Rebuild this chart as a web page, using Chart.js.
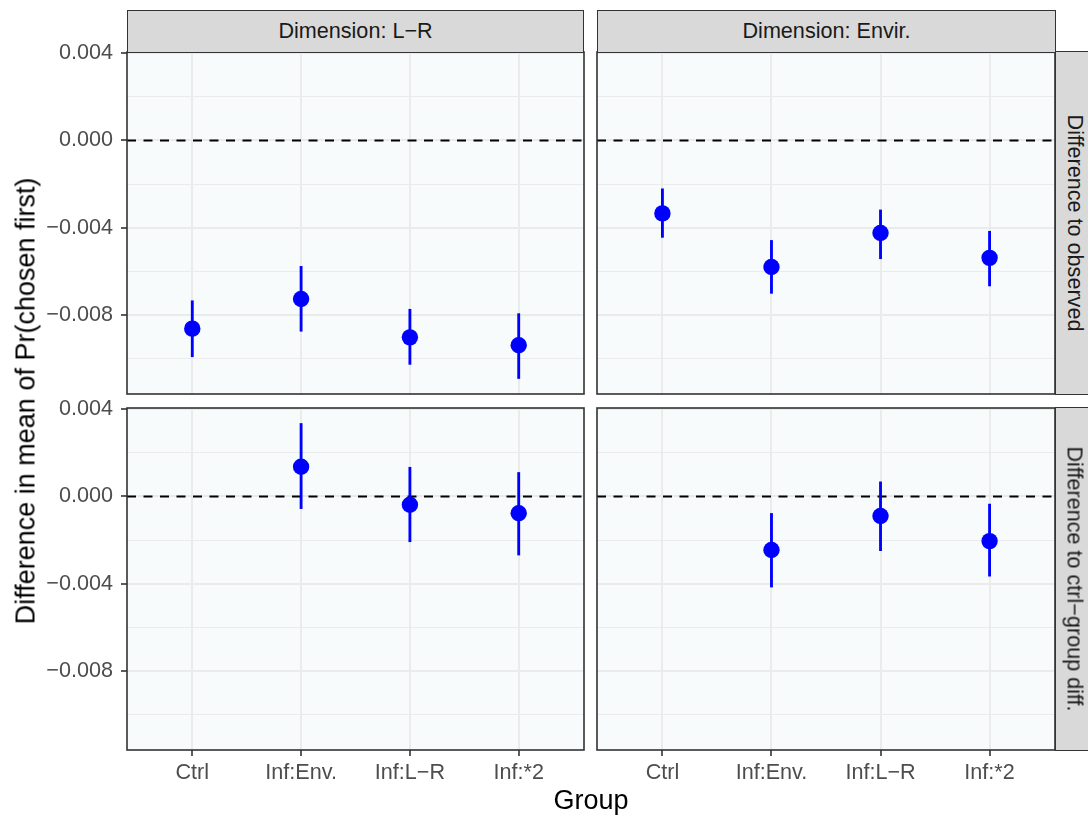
<!DOCTYPE html>
<html>
<head>
<meta charset="utf-8">
<script src="https://cdn.jsdelivr.net/npm/chart.js@4.4.1/dist/chart.umd.min.js"></script>
<style>
  html, body { margin: 0; padding: 0; background: #ffffff; }
  body { width: 1088px; height: 816px; position: relative; overflow: hidden; font-family: "Liberation Sans", Arial, sans-serif; }
  canvas { position: absolute; }
  .strip { position: absolute; background: #D9D9D9; border: 1.5px solid #333333; box-sizing: border-box; color: #1A1A1A; font-size: 21.6px; display: flex; align-items: center; justify-content: center; z-index: 2; }
  .vtext { transform: rotate(90deg); white-space: nowrap; }
  .title { position: absolute; color: #000; font-size: 27px; white-space: nowrap; }
</style>
</head>
<body>
<canvas id="cTL" width="590" height="360" style="left:0px;top:40px"></canvas>
<canvas id="cTR" width="470" height="360" style="left:591px;top:40px"></canvas>
<canvas id="cBL" width="590" height="420" style="left:0px;top:396px"></canvas>
<canvas id="cBR" width="470" height="420" style="left:591px;top:396px"></canvas>

<div class="strip" style="left:127px;top:9.5px;width:457px;height:43px">Dimension: L−R</div>
<div class="strip" style="left:597px;top:9.5px;width:459px;height:43px">Dimension: Envir.</div>
<div class="strip" style="left:1055px;top:51px;width:40px;height:344px"><div class="vtext">Difference to observed</div></div>
<div class="strip" style="left:1055px;top:407px;width:40px;height:344px"><div class="vtext">Difference to ctrl−group diff.</div></div>

<div class="title" style="left:26px;top:401px;transform:translate(-50%,-50%) rotate(-90deg)">Difference in mean of Pr(chosen first)</div>
<div class="title" style="left:591px;top:800px;transform:translate(-50%,-50%)">Group</div>

<script>
// ---- data ----
const categories = ['Ctrl', 'Inf:Env.', 'Inf:L−R', 'Inf:*2'];
const yTickValues = [0.004, 0.002, 0, -0.002, -0.004, -0.006, -0.008, -0.010];
const yMajorLabels = { '0.004': '0.004', '0': '0.000', '-0.004': '−0.004', '-0.008': '−0.008' };
const yRange = [-0.01164, 0.00406];

// Dimension L-R, difference to observed
const lrObsMean = [-0.00864, -0.00728, -0.00904, -0.00940];
const lrObsLo   = [-0.00993, -0.00876, -0.01028, -0.01093];
const lrObsHi   = [-0.00736, -0.00578, -0.00775, -0.00795];
// Dimension Envir., difference to observed
const envObsMean = [-0.00335, -0.00581, -0.00425, -0.00539];
const envObsLo   = [-0.00445, -0.00702, -0.00543, -0.00668];
const envObsHi   = [-0.00222, -0.00459, -0.00319, -0.00417];
// Dimension L-R, difference to ctrl-group diff.
const lrCtrlMean = [null, 0.00136, -0.00038, -0.00077];
const lrCtrlLo   = [null, -0.00056, -0.00208, -0.00269];
const lrCtrlHi   = [null, 0.00335, 0.00134, 0.00110];
// Dimension Envir., difference to ctrl-group diff.
const envCtrlMean = [null, -0.00246, -0.00090, -0.00205];
const envCtrlLo   = [null, -0.00416, -0.00249, -0.00366];
const envCtrlHi   = [null, -0.00078, 0.00067, -0.00035];

// ---- helpers ----
const FONT = 'Liberation Sans, Arial, sans-serif';
const TICK_SIZE = 21.6;
const isMajor = v => Math.abs(Math.round(v / 0.002)) % 2 === 0;

const panelPlugin = {
  id: 'panelDeco',
  beforeDraw(chart) {
    const { ctx, chartArea: a } = chart;
    ctx.save();
    ctx.fillStyle = '#F7FBFC';
    ctx.fillRect(a.left, a.top, a.right - a.left, a.bottom - a.top);
    ctx.restore();
  },
  beforeDatasetsDraw(chart) {
    const { ctx, chartArea: a, scales } = chart;
    const y0 = scales.y.getPixelForValue(0);
    ctx.save();
    ctx.strokeStyle = '#000000';
    ctx.lineWidth = 2.1;
    ctx.setLineDash([9, 7.5]);
    ctx.beginPath();
    ctx.moveTo(a.left, y0);
    ctx.lineTo(a.right, y0);
    ctx.stroke();
    ctx.restore();
  },
  afterDraw(chart) {
    const { ctx, chartArea: a } = chart;
    ctx.save();
    ctx.strokeStyle = '#333333';
    ctx.lineWidth = 1.6;
    ctx.strokeRect(a.left, a.top, a.right - a.left, a.bottom - a.top);
    ctx.restore();
  }
};

function zeroPad(s) { s.paddingTop = 0; s.paddingBottom = 0; s.paddingLeft = 0; s.paddingRight = 0; }

function makePanel(id, mean, lo, hi, opts) {
  const pts = mean.map((m, i) => ({ x: i + 1, y: m }));
  const bars = lo.map((l, i) => (l === null ? { x: i + 1, y: null } : { x: i + 1, y: [l, hi[i]] }));
  new Chart(document.getElementById(id), {
    data: {
      datasets: [
        { type: 'scatter', data: pts, pointRadius: 8.2, pointHoverRadius: 8.2, pointBackgroundColor: '#0000FF', pointBorderWidth: 0, order: 0 },
        { type: 'bar', data: bars, backgroundColor: '#0000FF', borderWidth: 0, barThickness: 2.2, order: 1 }
      ]
    },
    options: {
      responsive: false,
      animation: false,
      devicePixelRatio: 1,
      events: [],
      plugins: { legend: { display: false }, tooltip: { enabled: false } },
      layout: { autoPadding: false, padding: opts.padding },
      scales: {
        x: {
          type: 'linear', min: 0.4, max: 4.6, offset: false,
          afterBuildTicks: s => { s.ticks = categories.map((c, i) => ({ value: i + 1 })); },
          afterFit: s => { s.height = opts.xHeight; zeroPad(s); },
          grid: { offset: false, color: '#EBEBEB', lineWidth: 2, drawTicks: opts.showX, tickLength: 6, tickColor: '#333333', tickWidth: 1.6 },
          border: { display: false },
          ticks: { display: opts.showX, autoSkip: false, maxRotation: 0, padding: 4, color: '#4D4D4D', font: { family: FONT, size: TICK_SIZE },
                   callback: v => categories[Math.round(v) - 1] }
        },
        y: {
          type: 'linear', min: yRange[0], max: yRange[1],
          afterBuildTicks: s => { s.ticks = yTickValues.map(v => ({ value: v })); },
          afterFit: s => { s.width = opts.yWidth; zeroPad(s); },
          grid: {
            color: '#EBEBEB',
            lineWidth: c => (c.tick && isMajor(c.tick.value) ? 2 : 1),
            drawTicks: opts.showY, tickLength: 6,
            tickColor: c => (c.tick && isMajor(c.tick.value) ? '#333333' : 'rgba(0,0,0,0)'),
            tickWidth: 1.6
          },
          border: { display: false },
          ticks: { display: opts.showY, autoSkip: false, padding: 8, color: '#4D4D4D', font: { family: FONT, size: TICK_SIZE },
                   callback: v => { const k = String(Math.round(v * 1000) / 1000); return yMajorLabels[k] !== undefined && isMajor(v) ? yMajorLabels[k] : ''; } }
        }
      }
    },
    plugins: [panelPlugin]
  });
}

makePanel('cTL', lrObsMean, lrObsLo, lrObsHi, { padding: { top: 12, right: 6, bottom: 6, left: 0 }, xHeight: 0, yWidth: 127, showX: false, showY: true });
makePanel('cTR', envObsMean, envObsLo, envObsHi, { padding: { top: 12, right: 6, bottom: 6, left: 6 }, xHeight: 0, yWidth: 0, showX: false, showY: false });
makePanel('cBL', lrCtrlMean, lrCtrlLo, lrCtrlHi, { padding: { top: 12, right: 6, bottom: 0, left: 0 }, xHeight: 66, yWidth: 127, showX: true, showY: true });
makePanel('cBR', envCtrlMean, envCtrlLo, envCtrlHi, { padding: { top: 12, right: 6, bottom: 0, left: 6 }, xHeight: 66, yWidth: 0, showX: true, showY: false });
</script>
</body>
</html>
